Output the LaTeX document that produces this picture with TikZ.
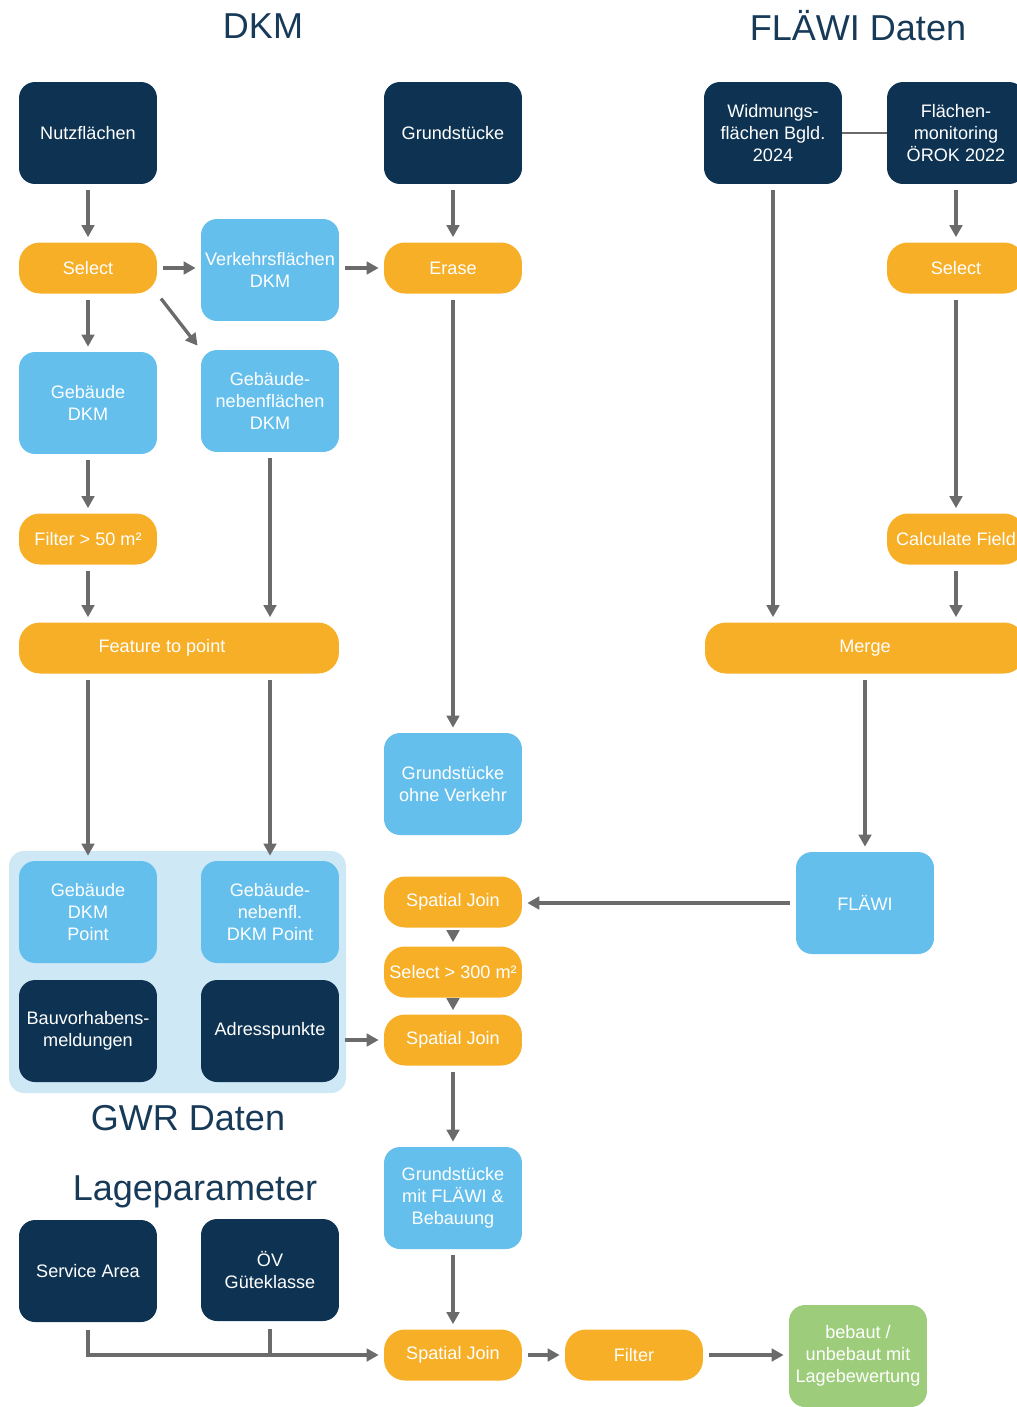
\documentclass[tikz,border=0pt]{standalone}
\usepackage{fontspec}
\setmainfont{Liberation Sans}
\usetikzlibrary{arrows.meta}

\definecolor{navy}{HTML}{0E3352}
\definecolor{skyblue}{HTML}{64BFEC}
\definecolor{amber}{HTML}{F6AF27}
\definecolor{leaf}{HTML}{9DCD7B}
\definecolor{pale}{HTML}{CFE8F6}
\definecolor{arrowgray}{HTML}{6B6B6B}
\definecolor{titleblue}{HTML}{173A58}

\tikzset{
  box/.style={rectangle, rounded corners=0.32cm, minimum width=2.76cm, minimum height=2.04cm,
    inner sep=1pt, align=center, font=\fontsize{10.3}{12.6}\selectfont},
  darkbox/.style={box, fill=navy, text=white},
  bluebox/.style={box, fill=skyblue, text=white},
  greenbox/.style={box, fill=leaf, text=white},
  pill/.style={box, fill=amber, text=white, minimum height=1.02cm, rounded corners=0.42cm},
  heading/.style={text=titleblue, font=\fontsize{20.5}{24}\selectfont},
  flow/.style={->, draw=arrowgray, line width=1.9pt, shorten <=0.12cm, shorten >=0.1cm},
  flowshort/.style={flow, shorten <=0.1cm, shorten >=0.08cm},
  >={Triangle[length=0.24cm,width=0.25cm]}
}

\begin{document}
\begin{tikzpicture}[x=0.02cm, y=-0.02cm]

\useasboundingbox (0,0) rectangle (1017,1407);
\clip (0,0) rectangle (1017,1407);

% headings
\node[heading] (tdkm) at (263,26) {DKM};
\node[heading] (tflaewi) at (858,26) {FLÄWI Daten};
\node[heading] (tgwr) at (188,1118) {GWR Daten};
\node[heading] (tlage) at (195,1192) {Lageparameter};

% GWR group
\fill[pale, rounded corners=0.3cm] (9,851) rectangle (346,1093);

% DKM branch
\node[darkbox] (nutz) at (88,133) {Nutzflächen};
\node[darkbox] (grund) at (453,133) {Grundstücke};
\node[pill] (selL) at (88,268) {Select};
\node[bluebox] (verk) at (270,270) {Verkehrsflächen\\DKM};
\node[pill] (erase) at (453,268) {Erase};
\node[bluebox] (geb) at (88,403) {Gebäude\\DKM};
\node[bluebox] (gebnf) at (270,401) {Gebäude-\\nebenflächen\\DKM};
\node[pill] (filt50) at (88,539) {Filter > 50 m²};
\node[pill, minimum width=6.4cm] (feat) at (179,648) {Feature to point\hspace*{0.68cm}};
\node[bluebox] (gohne) at (453,784) {Grundstücke\\ohne Verkehr};

% FLAEWI branch
\node[darkbox] (widm) at (773,133) {Widmungs-\\flächen Bgld.\\2024};
\node[darkbox] (monit) at (956,133) {Flächen-\\monitoring\\ÖROK 2022};
\node[pill] (selR) at (956,268) {Select};
\node[pill] (calc) at (956,539) {Calculate Field};
\node[pill, minimum width=6.4cm] (merge) at (865,648) {Merge};
\node[bluebox] (flaewi) at (865,903) {FLÄWI};

% GWR
\node[bluebox] (gebpt) at (88,912) {Gebäude\\DKM\\Point};
\node[bluebox] (gebnfpt) at (270,912) {Gebäude-\\nebenfl.\\DKM Point};
\node[darkbox] (bauv) at (88,1031) {Bauvorhabens-\\meldungen};
\node[darkbox] (adr) at (270,1031) {Adresspunkte};

% joins
\node[pill] (sjA) at (453,902) {Spatial Join};
\node[pill] (sel300) at (453,972) {Select > 300 m²};
\node[pill] (sjB) at (453,1040) {Spatial Join};
\node[bluebox] (gmit) at (453,1198) {Grundstücke\\mit FLÄWI \&\\Bebauung};

% Lageparameter
\node[darkbox] (serv) at (88,1271) {Service Area};
\node[darkbox] (oev) at (270,1270) {ÖV\\Güteklasse};
\node[pill] (sjC) at (453,1355) {Spatial Join};
\node[pill] (filt) at (634,1355) {Filter};
\node[greenbox] (result) at (858,1356) {bebaut /\\unbebaut mit\\Lagebewertung};

% connectors
\draw[flow] (nutz) -- (selL);
\draw[flow] (selL) -- (verk.west |- selL.east);
\draw[flow] (verk.east |- erase.west) -- (erase);
\draw[flow] (selL) -- (geb);
\draw[flow] (selL.south east) -- (gebnf.north west);
\draw[flow] (grund) -- (erase);
\draw[flow] (geb) -- (filt50);
\draw[flow] (gebnf.south) -- (gebnf.south |- feat.north);
\draw[flow] (filt50) -- (filt50.south |- feat.north);
\draw[flow] (gebpt.north |- feat.south) -- (gebpt.north);
\draw[flow] (gebnfpt.north |- feat.south) -- (gebnfpt.north);
\draw[flow] (erase) -- (gohne);

\draw[arrowgray, line width=1.4pt] (widm) -- (monit);
\draw[flow] (monit) -- (selR);
\draw[flow] (selR) -- (calc);
\draw[flow] (calc.south) -- (calc.south |- merge.north);
\draw[flow] (widm.south) -- (widm.south |- merge.north);
\draw[flow] (merge) -- (flaewi);
\draw[flow] (flaewi.west) -- (flaewi.west -| sjA.east);

\draw[flowshort] (sjA) -- (sel300);
\draw[flowshort] (sel300) -- (sjB);
\draw[flow] (adr.east |- sjB.west) -- (sjB);
\draw[flow] (sjB) -- (gmit);
\draw[flow] (gmit) -- (sjC);

\draw[flow, shorten <=0.16cm] (serv.south) |- (sjC.west);
\draw[arrowgray, line width=1.9pt, shorten <=0.16cm] (oev.south) -- (oev.south |- sjC.west);
\draw[flow] (sjC) -- (filt);
\draw[flow] (filt) -- (result.west |- filt.east);

\end{tikzpicture}
\end{document}
